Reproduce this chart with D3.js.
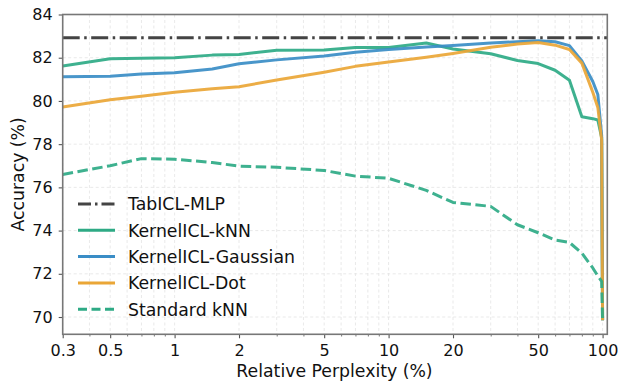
<!DOCTYPE html>
<meta charset="utf-8">
<script src="https://d3js.org/d3.v7.min.js"></script>
<style>
  body { margin: 0; background: #fff; }
  text { font-family: "DejaVu Sans", sans-serif; fill: #111; }
</style>
<body>
<div id="my_dataviz"></div>
<script>

  // data
  var perplexity = [0.3, 0.5, 0.7, 1, 1.5, 2, 3, 5, 7, 10, 15, 20, 30, 40, 50, 60, 70, 80, 90, 95, 99, 100];

  var kernelKnn = [81.62, 81.95, 81.97, 82.0, 82.12, 82.15, 82.35, 82.36, 82.47, 82.47, 82.68, 82.4, 82.18,
    81.87, 81.73, 81.42, 80.96, 79.27, 79.18, 79.12, 78.3, 69.85];
  var kernelGauss = [81.12, 81.14, 81.25, 81.3, 81.48, 81.72, 81.9, 82.08, 82.25, 82.38, 82.5, 82.56, 82.68,
    82.74, 82.78, 82.74, 82.56, 81.85, 80.9, 80.3, 78.4, 69.85];
  var kernelDot = [79.72, 80.05, 80.22, 80.4, 80.56, 80.66, 80.97, 81.33, 81.6, 81.8, 82.02, 82.2, 82.48,
    82.63, 82.7, 82.58, 82.38, 81.75, 80.4, 79.7, 78.2, 69.85];
  var standardKnn = [76.6, 77.0, 77.33, 77.3, 77.15, 76.98, 76.93, 76.78, 76.52, 76.42, 75.86, 75.3, 75.12,
    74.27, 73.9, 73.56, 73.45, 72.96, 72.27, 71.9, 71.65, 69.8];
  var tabiclMlp = 82.92;

  var xTickLabels = [0.3, 0.5, 1, 2, 5, 10, 20, 50, 100];
  var xMinorTicks = [0.4, 0.6, 0.7, 0.8, 0.9, 3, 4, 6, 7, 8, 9, 30, 40, 60, 70, 80, 90];
  var yTicks = [70, 72, 74, 76, 78, 80, 82, 84];

  var seriesNames = ["TabICL-MLP", "KernelICL-kNN", "KernelICL-Gaussian", "KernelICL-Dot", "Standard kNN"];
  var seriesColors = ["#444444", "#2eaa85", "#3a8dc6", "#eaa636", "#2eaa85"];
  var seriesDash = ["17,4.5,2.5,4.5", null, null, null, "10.5,4.5"];

  var W = 622, H = 381;
  var mLeft = 62.7, mRight = 607.3, mTop = 14.5, mBottom = 334.3;

  var svg = d3.select("#my_dataviz")
    .append("svg")
    .attr("width", W)
    .attr("height", H);

  var x = d3.scaleLog()
    .domain([0.3, 105.2])
    .range([mLeft, mRight]);

  var y = d3.scaleLinear()
    .domain([69.2, 84])
    .range([mBottom, mTop]);

  // grid
  var grid = svg.append("g")
    .attr("stroke", "#e3e3e3")
    .attr("stroke-width", 0.8)
    .attr("stroke-dasharray", "3,2.5");
  grid.selectAll(".gx")
    .data(xTickLabels.concat(xMinorTicks))
    .enter().append("line")
    .attr("x1", d => x(d)).attr("x2", d => x(d))
    .attr("y1", mTop).attr("y2", mBottom);
  grid.selectAll(".gy")
    .data(yTicks)
    .enter().append("line")
    .attr("x1", mLeft).attr("x2", mRight)
    .attr("y1", d => y(d)).attr("y2", d => y(d));

  // axes
  var xAxis = svg.append("g")
    .attr("transform", "translate(0," + mBottom + ")")
    .call(d3.axisBottom(x).tickValues(xTickLabels).tickFormat(d => String(d)).tickSize(4).tickPadding(6));
  svg.append("g")
    .attr("transform", "translate(0," + mBottom + ")")
    .call(d3.axisBottom(x).tickValues(xMinorTicks).tickFormat("").tickSize(2.2))
    .call(g => g.select(".domain").remove())
    .selectAll("line").attr("stroke", "#555").attr("stroke-width", 0.8);

  var yAxis = svg.append("g")
    .attr("transform", "translate(" + mLeft + ",0)")
    .call(d3.axisLeft(y).tickValues(yTicks).tickSize(4).tickPadding(6));

  [xAxis, yAxis].forEach(function (g) {
    g.select(".domain").remove();
    g.selectAll(".tick line").attr("stroke", "#555").attr("stroke-width", 1.1);
    g.selectAll(".tick text")
      .style("font-size", "16px")
      .style("font-family", "DejaVu Sans, sans-serif")
      .attr("fill", "#111");
  });

  // lines
  var line = d3.line()
    .x(function (d, i) { return x(perplexity[i]) })
    .y(function (d) { return y(d) });

  var curves = [kernelKnn, kernelGauss, kernelDot, standardKnn];
  curves.forEach(function (vals, k) {
    svg.append("path")
      .datum(vals)
      .attr("d", line)
      .attr("fill", "none")
      .attr("stroke", seriesColors[k + 1])
      .attr("stroke-width", 3)
      .attr("stroke-opacity", 0.92)
      .attr("stroke-linejoin", "round")
      .attr("stroke-dasharray", seriesDash[k + 1]);
  });

  svg.append("line")
    .attr("x1", mLeft).attr("x2", mRight)
    .attr("y1", y(tabiclMlp)).attr("y2", y(tabiclMlp))
    .attr("stroke", seriesColors[0])
    .attr("stroke-width", 3)
    .attr("stroke-dasharray", seriesDash[0]);

  // frame
  svg.append("rect")
    .attr("x", mLeft).attr("y", mTop)
    .attr("width", mRight - mLeft).attr("height", mBottom - mTop)
    .attr("fill", "none")
    .attr("stroke", "#777")
    .attr("stroke-width", 1.6);

  // legend
  var legend = svg.append("g");
  seriesNames.forEach(function (name, i) {
    var ly = 204 + i * 26.3;
    legend.append("line")
      .attr("x1", 78).attr("x2", 115)
      .attr("y1", ly).attr("y2", ly)
      .attr("stroke", seriesColors[i])
      .attr("stroke-width", 3)
      .attr("stroke-dasharray", i == 0 ? "13,4,2.5,4" : seriesDash[i] ? "9,4.5" : null);
    legend.append("text")
      .attr("x", 128)
      .attr("y", ly + 6.3)
      .style("font-size", "17.3px")
      .text(name);
  });

  // labels
  svg.append("text")
    .attr("x", 334.5)
    .attr("y", 377)
    .attr("text-anchor", "middle")
    .style("font-size", "17.3px")
    .text("Relative Perplexity (%)");

  svg.append("text")
    .attr("transform", "translate(24," + ((mTop + mBottom) / 2) + ")rotate(-90)")
    .attr("text-anchor", "middle")
    .style("font-size", "17.3px")
    .text("Accuracy (%)");

</script>
</body>
